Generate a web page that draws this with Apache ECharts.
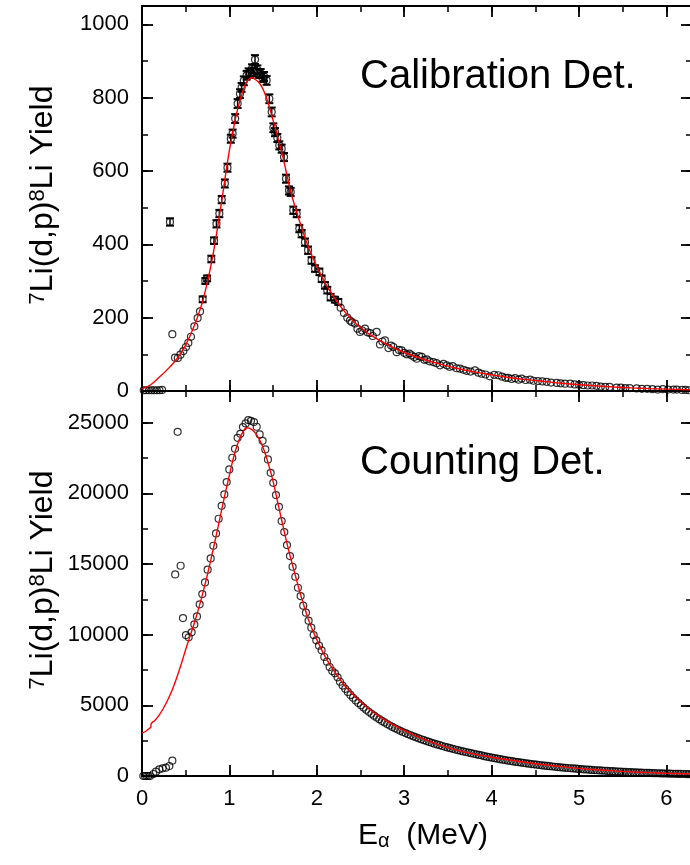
<!DOCTYPE html>
<html>
<head>
<meta charset="utf-8">
<script src="https://cdn.jsdelivr.net/npm/echarts@6/dist/echarts.min.js"></script>
<style>
html,body{margin:0;padding:0;background:#fff;}
#chart{width:690px;height:865px;}
</style>
</head>
<body>
<div id="chart"></div>
<script>
// ---------- Calibration detector (top panel) ----------
const calE = [0.02,0.05,0.08,0.11,0.14,0.17,0.20,0.23,0.32,0.347,0.378,0.41,0.44,0.473,0.503,0.53,0.56,0.599,0.637,0.664,
0.694,0.725,0.745,0.793,0.824,0.852,0.885,0.912,0.948,0.978,1.016,1.037,1.066,1.094,1.121,1.14,1.165,1.197,1.22,1.236,
1.259,1.278,1.293,1.32,1.34,1.358,1.376,1.396,1.426,1.457,1.484,1.503,1.522,1.549,1.571,1.598,1.625,1.648,1.682,1.701,
1.731,1.77,1.8,1.827,1.865,1.9,1.94,1.98,2.03,2.056,2.094,2.12,2.158,2.208,2.246,2.273,2.311,2.349,2.38,2.4,
2.437,2.465,2.494,2.52,2.552,2.58,2.609,2.64,2.685,2.723,2.75,2.78,2.82,2.85,2.876,2.914,2.94,2.97,3.0,3.028,
3.06,3.085,3.115,3.143,3.17,3.2,3.23,3.258,3.29,3.334,3.37,3.41,3.45,3.487,3.52,3.555,3.6,3.638,3.68,3.715,
3.76,3.81,3.85,3.886,3.93,3.98,4.03,4.077,4.12,4.16,4.19,4.23,4.27,4.31,4.344,4.39,4.44,4.48,4.53,4.58,
4.63,4.68,4.745,4.79,4.84,4.9,4.95,5.0,5.05,5.1,5.15,5.2,5.25,5.3,5.35,5.43,5.48,5.53,5.58,5.66,
5.72,5.78,5.84,5.9,5.96,6.02,6.08,6.12,6.18,6.22,6.26];
const calV = [2,2,2,2,2,2,2,3,461,155,91,90,99,109,120,131,148,176,199,217,
250,300,307,360,410,456,484,522,566,609,688,702,743,784,811,828,846,861,868,866,
879,870,904,876,866,866,855,858,847,797,761,718,706,690,670,661,638,579,547,543,
493,484,443,429,406,384,356,334,325,306,288,275,256,249,243,227,213,200,192,188,
184,170,161,165,170,160,158,150,161,127,135,138,117,124,120,106,112,111,104,100,
102,97,93,88,95,93,85,86,81,79,76,70,74,70,66,68,62,61,58,55,
53,56,50,47,45,40,44,43,39,36,36,33,35,31,34,30,31,28,27,26,
25,23,22,21,20,20,18,17,16,15,15,14,12,11,11,9,9,8,8,7,
6,6,5,4,5,4,4,4,3,3,2];
const calErr = [0,0,0,0,0,0,0,0,10,0,0,0,0,0,0,0,0,0,0,0,
8,8,8,9,9,10,10,10,11,11,11,11,12,12,12,12,12,12,12,12,
12,12,12,12,12,12,12,12,12,12,12,12,11,11,11,11,11,11,11,11,
10,10,10,10,10,10,9,9,9,9,9,9,9,8,8,0,0,0,0,0,
0,0,0,0,0,0,0,0,0,0,0,0,0,0,0,0,0,0,0,0,
0,0,0,0,0,0,0,0,0,0,0,0,0,0,0,0,0,0,0,0,
0,0,0,0,0,0,0,0,0,0,0,0,0,0,0,0,0,0,0,0,
0,0,0,0,0,0,0,0,0,0,0,0,0,0,0,0,0,0,0,0,
0,0,0,0,0,0,0,0,0,0,0];
const calFitE = [0,0.1,0.2,0.3,0.4,0.5,0.6,0.7,0.8,0.9,0.95,1.0,1.05,1.1,1.15,1.2,1.26,1.3,1.35,1.4,1.45,1.5,1.55,1.6,1.65,1.7,1.75,1.8,1.9,2.0,2.1,2.2,2.3,2.4,2.5,2.6,2.8,3.0,3.2,3.4,3.6,3.8,4.0,4.2,4.4,4.6,4.8,5.0,5.2,5.4,5.6,5.8,6.0,6.29];
const calFitV = [6,17,38,61,88,125,179,250,356,500,580,656,720,775,815,843,855,849,838,815,780,738,695,650,598,545,503,465,395,340,293,255,222,195,173,155,127,105,88,74,62,52,44,37,31,26,21,17,14,11,8.5,6.5,5,3.5];

// ---------- Counting detector (bottom panel) ----------
const cntE = [0.015,0.035,0.053,0.072,0.092,0.13,0.16,0.198,0.236,0.274,0.313,0.347,0.38,0.408,0.442,0.469,0.503,0.534,0.568,
0.599,0.629,0.660,0.690,0.721,0.751,0.786,0.816,0.847,0.877,0.911,0.942,0.969,0.999,1.033,1.064,1.094,1.125,1.155,1.186,1.216,
1.247,1.281,1.312,1.346,1.380,1.411,1.441,1.472,1.502,1.533,1.567,1.598,1.628,1.659,1.693,1.723,1.754,1.784,1.815,1.845,
1.876,1.906,1.937,1.964,1.994,2.025,2.055,2.086,2.116,2.147,2.177,2.208,2.238,2.265,
2.295,2.325,2.355,2.385,2.415,2.445,2.475,2.505,2.535,2.565,2.595,2.625,2.655,2.685,2.715,2.745,2.775,2.805,2.835,2.865,
2.895,2.925,2.955,2.985,3.015,3.045,3.075,3.105,3.135,3.165,3.195,3.225,3.255,3.285,3.315,3.345,3.375,3.405,3.435,3.465,
3.495,3.525,3.555,3.585,3.615,3.645,3.675,3.705,3.735,3.765,3.795,3.825,3.855,3.885,3.915,3.945,3.975,4.005,4.035,4.065,
4.095,4.125,4.155,4.185,4.215,4.245,4.275,4.305,4.335,4.365,4.395,4.425,4.455,4.485,4.515,4.545,4.575,4.605,4.635,4.665,
4.695,4.725,4.755,4.785,4.815,4.845,4.875,4.905,4.935,4.965,4.995,5.025,5.055,5.085,5.115,5.145,5.175,5.205,5.235,5.265,
5.295,5.325,5.355,5.385,5.415,5.445,5.475,5.505,5.535,5.565,5.595,5.625,5.655,5.685,5.715,5.745,5.775,5.805,5.835,5.865,
5.895,5.925,5.955,5.985,6.015,6.045,6.075,6.105,6.135,6.165,6.195,6.225,6.255,6.285];
const cntV = [0,0,0,0,0,142,307,472,542,590,708,1085,14270,24362,14880,11180,9977,9812,10167,
10731,11298,12148,12878,13703,14600,15400,16296,17170,18207,19126,19932,20802,21700,22524,23160,23938,24220,24694,24953,25189,
25142,25048,24718,24174,23726,23114,22406,21460,20752,19882,19055,18043,17265,16345,15566,14810,14102,13325,12738,12055,
11559,10993,10498,9977,9600,9224,8895,8421,8091,7715,7431,7265,6982,6672,
6400,6170,5950,5740,5540,5350,5170,5000,4840,4690,4545,4405,4270,4140,4020,3900,3790,3680,3575,3475,
3380,3290,3200,3115,3035,2955,2880,2805,2735,2665,2600,2535,2470,2410,2350,2290,2235,2180,2125,2070,
2020,1970,1920,1875,1830,1785,1740,1700,1655,1615,1575,1535,1495,1460,1400,1365,1330,1295,1260,1225,
1190,1158,1126,1095,1065,1035,1006,978,950,923,897,872,847,823,800,777,755,734,713,693,
673,654,635,617,599,582,565,549,533,518,503,488,474,460,446,433,420,407,395,383,
371,360,349,338,327,317,307,297,288,279,270,261,253,245,237,229,222,215,208,201,
195,189,183,177,171,165,160,155,150,145,140,135,131,127];
const cntFitE = [0,0.04,0.08,0.1,0.105,0.15,0.2,0.25,0.3,0.35,0.4,0.45,0.5,0.55,0.6,0.65,0.7,0.75,0.8,0.85,0.9,0.95,1.0,1.05,1.1,1.15,1.2,1.25,1.3,1.35,1.4,1.45,1.5,1.55,1.6,1.65,1.7,1.75,1.8,1.85,1.9,1.95,2.0,2.1,2.2,2.3,2.4,2.5,2.6,2.7,2.8,2.9,3.0,3.2,3.4,3.6,3.8,4.0,4.2,4.4,4.6,4.8,5.0,5.2,5.4,5.6,5.8,6.0,6.29];
const cntFitV = [3060,3150,3350,3450,3700,3950,4350,4850,5450,6150,7000,7950,8950,9900,10850,11900,13050,14300,15650,17050,18500,19950,21300,22600,23600,24300,24650,24550,24250,23750,23000,22000,20850,19450,18050,16700,15450,14300,13150,12100,11150,10350,9650,8400,7400,6550,5850,5250,4720,4270,3880,3530,3220,2660,2200,1830,1550,1330,1140,960,800,660,540,440,360,295,240,195,150];

// ---------- axis ranges / ticks ----------
const xMax = 6.293, xMajor = 1, xMinor = 0.5;
const calYMax = 1050, calYMajor = 200, calYMinor = 100;
const cntYMax = 27250, cntYMajor = 5000, cntYMinor = 2500;
const xTitle = 'E{s|α}  (MeV)';
const yTitle = '{p|7}{n|Li(d,p)}{p|8}{n|Li Yield}';
const calLabel = 'Calibration Det.';
const cntLabel = 'Counting Det.';

const FONT = '"Liberation Sans", Arimo, Arial, sans-serif';
const grids = [
  {left:142, top:6, width:550, height:385, outerBoundsMode:'none', containLabel:false},
  {left:142, top:391, width:550, height:385, outerBoundsMode:'none', containLabel:false}
];

function xAx(g, pos, interval, major, labels){
  return {type:'value', gridIndex:g, position:pos, min:0, max:xMax, interval:interval,
    axisLine:{show:true, onZero:false, lineStyle:{color:'#000', width:2}},
    axisTick:{show:true, inside:true, length:major?11:6, lineStyle:{color:'#000', width:major?1.8:1.5}},
    axisLabel:{show:labels, margin:12, color:'#000', fontSize:22, fontFamily:FONT,
      formatter:v => (Math.abs(v-Math.round(v))<1e-6 ? String(Math.round(v)) : '')},
    splitLine:{show:false}};
}
function yAx(g, pos, max, interval, major, labels){
  return {type:'value', gridIndex:g, position:pos, min:0, max:max, interval:interval,
    axisLine:{show:true, onZero:false, lineStyle:{color:'#000', width:2}},
    axisTick:{show:true, inside:true, length:major?11:6, lineStyle:{color:'#000', width:major?1.8:1.5}},
    axisLabel:{show:labels, margin:13, color:'#000', fontSize:22, fontFamily:FONT,
      formatter:v => (v % interval === 0 ? String(v) : '')},
    splitLine:{show:false}};
}
const xAxes = [], yAxes = [];
[0,1].forEach(g => {
  xAxes.push(xAx(g,'bottom',xMajor,true,g===1));
  xAxes.push(xAx(g,'bottom',xMinor,false,false));
  xAxes.push(xAx(g,'top',xMajor,true,false));
  xAxes.push(xAx(g,'top',xMinor,false,false));
  const ymax = g===0?calYMax:cntYMax, ymaj = g===0?calYMajor:cntYMajor, ymin = g===0?calYMinor:cntYMinor;
  yAxes.push(yAx(g,'left',ymax,ymaj,true,true));
  yAxes.push(yAx(g,'left',ymax,ymin,false,false));
  yAxes.push(yAx(g,'right',ymax,ymaj,true,false));
  yAxes.push(yAx(g,'right',ymax,ymin,false,false));
});

const calPts = calE.map((e,i)=>[e, calV[i], calErr[i]]);
const calErrPts = calPts.filter(p=>p[2]>0);
const cntPts = cntE.map((e,i)=>[e, cntV[i]]);
const calFit = calFitE.map((e,i)=>[e, calFitV[i]]);
const cntFit = cntFitE.map((e,i)=>[e, cntFitV[i]]);

const circleStyle = {color:'rgba(0,0,0,0)', borderColor:'#000', borderWidth:1.2};

const option = {
  backgroundColor:'#fff',
  animation:false,
  grid:grids,
  xAxis:xAxes,
  yAxis:yAxes,
  series:[
    {type:'custom', xAxisIndex:0, yAxisIndex:0, z:2, data:calErrPts, clip:true,
      renderItem:(params, api)=>{
        const x = api.value(0), y = api.value(1), e = api.value(2);
        const lo = api.coord([x, y-e]), hi = api.coord([x, y+e]);
        const hw = 4;
        const st = {stroke:'#000', lineWidth:2};
        return {type:'group', children:[
          {type:'line', shape:{x1:lo[0], y1:lo[1], x2:hi[0], y2:hi[1]}, style:{stroke:'#000', lineWidth:1.5}},
          {type:'line', shape:{x1:lo[0]-hw, y1:lo[1], x2:lo[0]+hw, y2:lo[1]}, style:st},
          {type:'line', shape:{x1:hi[0]-hw, y1:hi[1], x2:hi[0]+hw, y2:hi[1]}, style:st}
        ]};
      }},
    {type:'scatter', xAxisIndex:0, yAxisIndex:0, z:3, symbol:'circle', symbolSize:7,
      itemStyle:circleStyle, data:calPts.map(p=>[p[0],p[1]])},
    {type:'line', xAxisIndex:0, yAxisIndex:0, z:4, data:calFit, smooth:0.4, showSymbol:false,
      lineStyle:{color:'#ff0000', width:1.4}},
    {type:'scatter', xAxisIndex:4, yAxisIndex:4, z:3, symbol:'circle', symbolSize:7,
      itemStyle:circleStyle, data:cntPts},
    {type:'line', xAxisIndex:4, yAxisIndex:4, z:4, data:cntFit, smooth:0.4, showSymbol:false,
      lineStyle:{color:'#ff0000', width:1.4}}
  ],
  graphic:[
    {type:'text', x:360, y:77, z:10, style:{text:calLabel, fill:'#000', font:'40px '+FONT, textAlign:'left', textVerticalAlign:'middle'}},
    {type:'text', x:360, y:463, z:10, style:{text:cntLabel, fill:'#000', font:'40px '+FONT, textAlign:'left', textVerticalAlign:'middle'}},
    {type:'text', x:358, y:836, z:10, style:{text:xTitle, fill:'#000', fontFamily:FONT, fontSize:30, textAlign:'left', textVerticalAlign:'middle',
      rich:{s:{fontSize:20, fontFamily:FONT, verticalAlign:'bottom', fill:'#000'}}}},
    {type:'text', x:43, y:195, rotation:Math.PI/2, z:10, style:{text:yTitle, fill:'#000', textAlign:'center', textVerticalAlign:'middle',
      rich:{n:{fontSize:32, fontFamily:FONT, fill:'#000'}, p:{fontSize:22, fontFamily:FONT, verticalAlign:'top', fill:'#000'}}}},
    {type:'text', x:43, y:580, rotation:Math.PI/2, z:10, style:{text:yTitle, fill:'#000', textAlign:'center', textVerticalAlign:'middle',
      rich:{n:{fontSize:32, fontFamily:FONT, fill:'#000'}, p:{fontSize:22, fontFamily:FONT, verticalAlign:'top', fill:'#000'}}}}
  ]
};
const chart = echarts.init(document.getElementById('chart'));
chart.setOption(option);
</script>
</body>
</html>
